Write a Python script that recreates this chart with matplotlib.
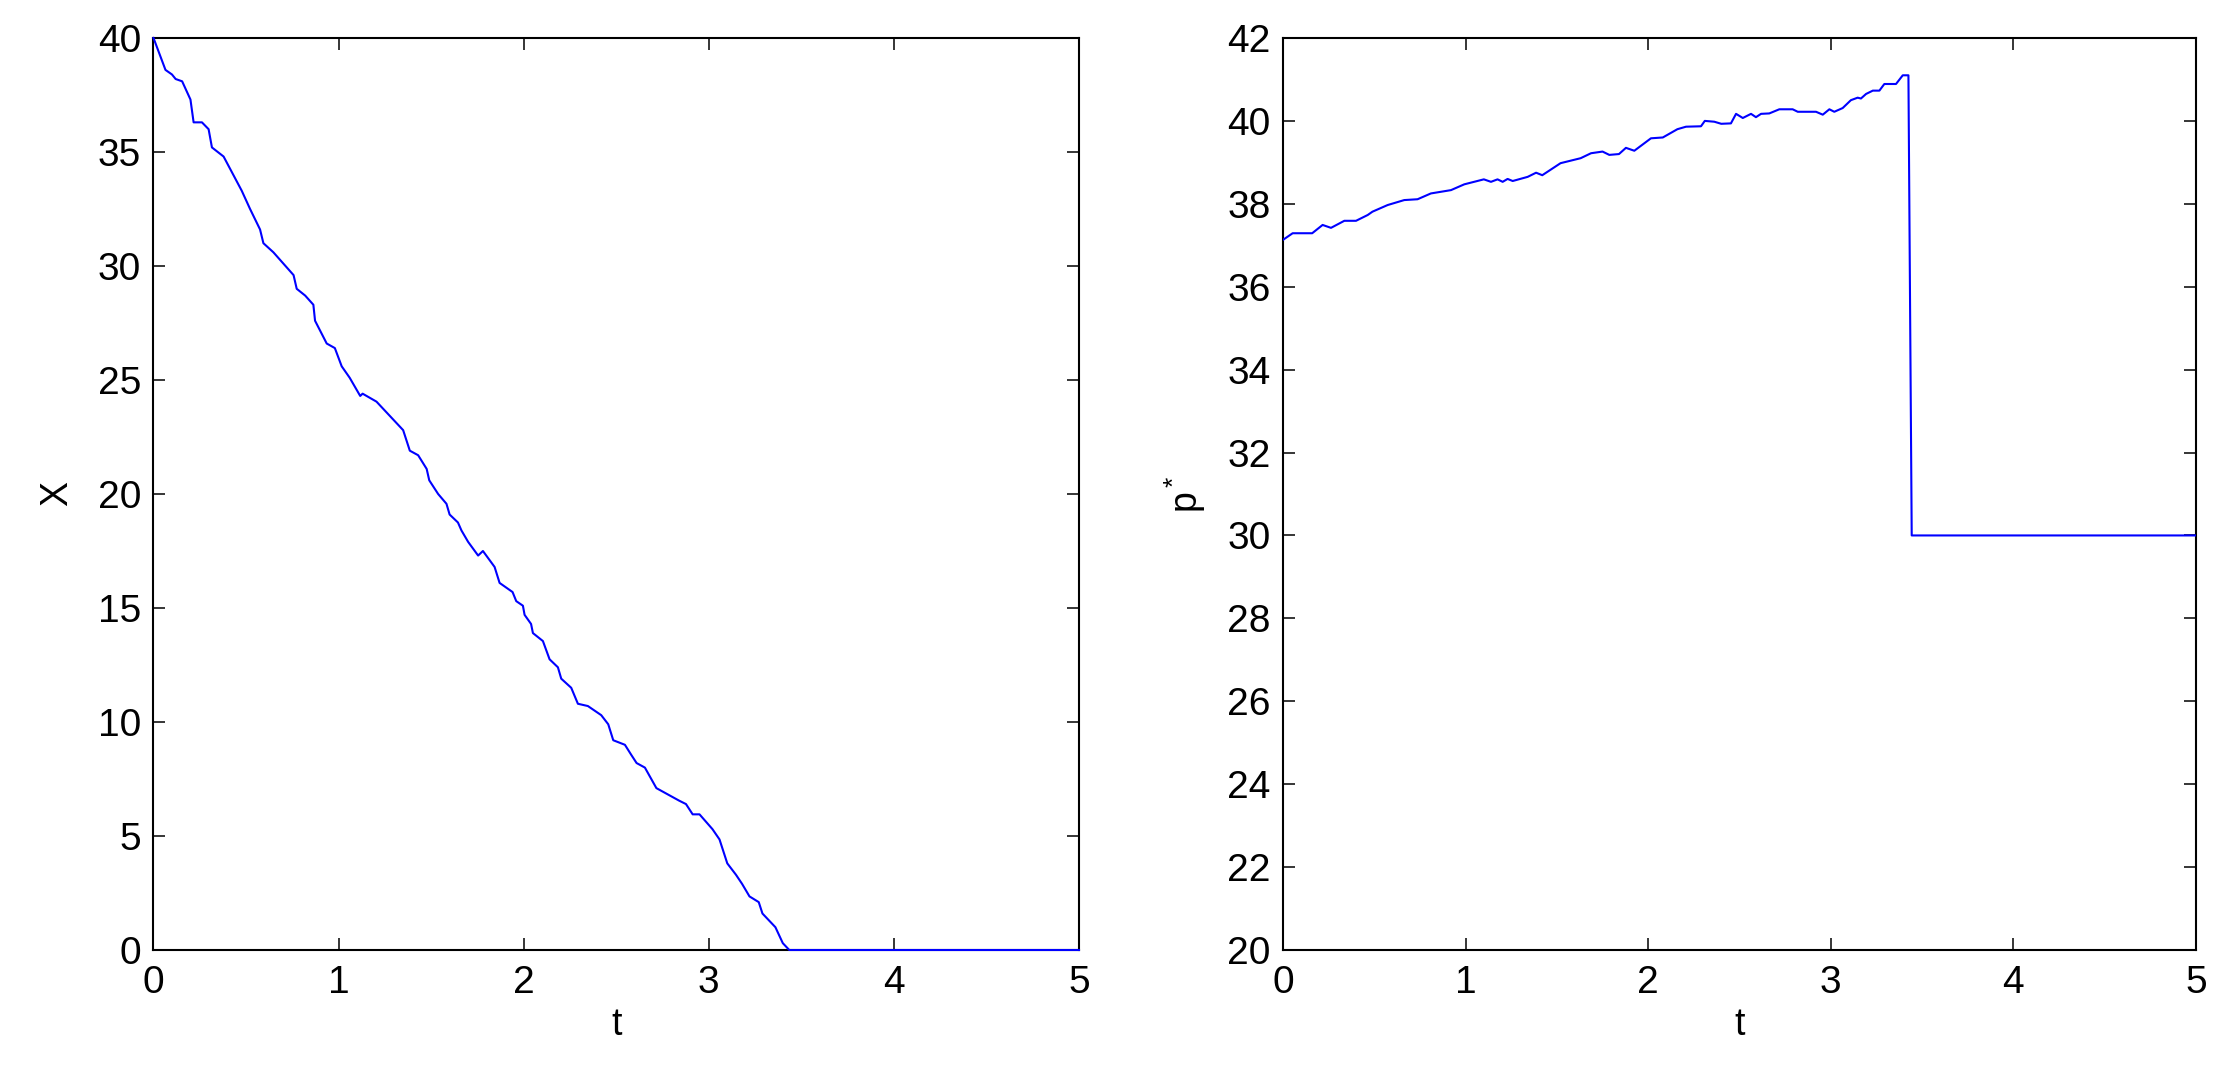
import matplotlib
matplotlib.use("Agg")
import matplotlib.pyplot as plt

plt.rcParams["font.family"] = ["Liberation Sans", "DejaVu Sans"]
plt.rcParams["mathtext.fontset"] = "custom"
plt.rcParams["mathtext.rm"] = "Liberation Sans"
plt.rcParams["mathtext.it"] = "Liberation Sans"

# ---- inventory path X(t) ----
x_t = [0, 0.005, 0.065, 0.10, 0.12, 0.155, 0.20, 0.217, 0.262, 0.298, 0.316,
       0.379, 0.477, 0.522, 0.576, 0.594, 0.648, 0.757, 0.774, 0.82, 0.864,
       0.873, 0.936, 0.98, 1.017, 1.06, 1.117, 1.13, 1.205, 1.349, 1.385,
       1.43, 1.476, 1.49, 1.538, 1.583, 1.60, 1.645, 1.664, 1.70, 1.754,
       1.78, 1.843, 1.87, 1.94, 1.96, 1.996, 2.005, 2.04, 2.05, 2.104, 2.14,
       2.185, 2.203, 2.257, 2.293, 2.347, 2.419, 2.457, 2.484, 2.547, 2.582,
       2.61, 2.655, 2.717, 2.84, 2.877, 2.913, 2.95, 3.02, 3.058, 3.10,
       3.147, 3.18, 3.22, 3.27, 3.29, 3.325, 3.36, 3.40, 3.435, 5.0]
x_val = [40, 39.9, 38.6, 38.4, 38.2, 38.1, 37.3, 36.3, 36.3, 36.0, 35.2,
         34.8, 33.3, 32.5, 31.6, 31.0, 30.6, 29.6, 29.0, 28.7, 28.3,
         27.6, 26.6, 26.4, 25.6, 25.1, 24.3, 24.4, 24.05, 22.8, 21.9,
         21.7, 21.1, 20.6, 20.0, 19.57, 19.1, 18.75, 18.4, 17.9, 17.3,
         17.5, 16.8, 16.1, 15.7, 15.3, 15.1, 14.7, 14.3, 13.9, 13.55, 12.75,
         12.4, 11.9, 11.5, 10.8, 10.7, 10.3, 9.9, 9.2, 9.0, 8.55,
         8.2, 8.0, 7.1, 6.55, 6.4, 5.95, 5.95, 5.3, 4.85, 3.8,
         3.3, 2.9, 2.35, 2.1, 1.6, 1.3, 1.0, 0.3, 0.0, 0.0]

# ---- optimal price p*(t) ----
p_t = [0, 0.053, 0.16, 0.217, 0.263, 0.336, 0.40, 0.464, 0.49, 0.573, 0.664,
       0.737, 0.81, 0.92, 0.993, 1.10, 1.139, 1.175, 1.203, 1.23, 1.258,
       1.34, 1.386, 1.42, 1.52, 1.63, 1.687, 1.75, 1.787, 1.84, 1.878,
       1.924, 2.015, 2.08, 2.16, 2.207, 2.289, 2.31, 2.362, 2.40, 2.453,
       2.481, 2.518, 2.563, 2.59, 2.618, 2.663, 2.718, 2.791, 2.819, 2.919,
       2.956, 2.992, 3.019, 3.065, 3.11, 3.147, 3.165, 3.193, 3.23, 3.266,
       3.293, 3.357, 3.394, 3.425, 3.443, 5.0]
p_val = [37.13, 37.29, 37.29, 37.49, 37.42, 37.59, 37.59, 37.73, 37.81, 37.97, 38.09,
         38.11, 38.25, 38.33, 38.47, 38.59, 38.53, 38.59, 38.53, 38.6, 38.55,
         38.65, 38.75, 38.69, 38.98, 39.10, 39.22, 39.26, 39.18, 39.20, 39.35,
         39.28, 39.58, 39.60, 39.80, 39.86, 39.87, 40.0, 39.98, 39.93, 39.94,
         40.17, 40.07, 40.17, 40.09, 40.17, 40.18, 40.28, 40.28, 40.22, 40.22,
         40.15, 40.28, 40.22, 40.31, 40.50, 40.56, 40.54, 40.65, 40.73, 40.73,
         40.89, 40.89, 41.10, 41.10, 30.0, 30.0]

x_ticks = [0, 1, 2, 3, 4, 5]
left_yticks = [0, 5, 10, 15, 20, 25, 30, 35, 40]
right_yticks = [20, 22, 24, 26, 28, 30, 32, 34, 36, 38, 40, 42]

fig = plt.figure(figsize=(22.27, 10.76), dpi=100)
ax1 = fig.add_axes([0.0689, 0.1171, 0.4156, 0.8476])
ax2 = fig.add_axes([0.5761, 0.1171, 0.4100, 0.8476])


def style(ax):
    for s in ax.spines.values():
        s.set_linewidth(1.5)
    ax.tick_params(direction="in", length=8.5, width=1.1, top=True, right=True,
                   labelsize=28)
    ax.tick_params(axis="x", pad=11)
    ax.tick_params(axis="y", pad=9)
    ax.set_xticks(x_ticks)
    ax.set_xlim(0, 5)


ax1.plot(x_t, x_val, color="blue", linewidth=1.5, clip_on=False, zorder=3)
style(ax1)
ax1.set_ylim(0, 40)
ax1.set_yticks(left_yticks)
ax1.set_xlabel("t", fontsize=27, labelpad=4)
ax1.set_ylabel("X", fontsize=27, labelpad=16)

ax2.plot(p_t, p_val, color="blue", linewidth=1.5, zorder=3)
style(ax2)
ax2.set_ylim(20, 42)
ax2.set_yticks(right_yticks)
ax2.set_xlabel("t", fontsize=27, labelpad=4)
ax2.set_ylabel("p$^*$", fontsize=27, labelpad=14)

fig.savefig("out.png", dpi=100)
